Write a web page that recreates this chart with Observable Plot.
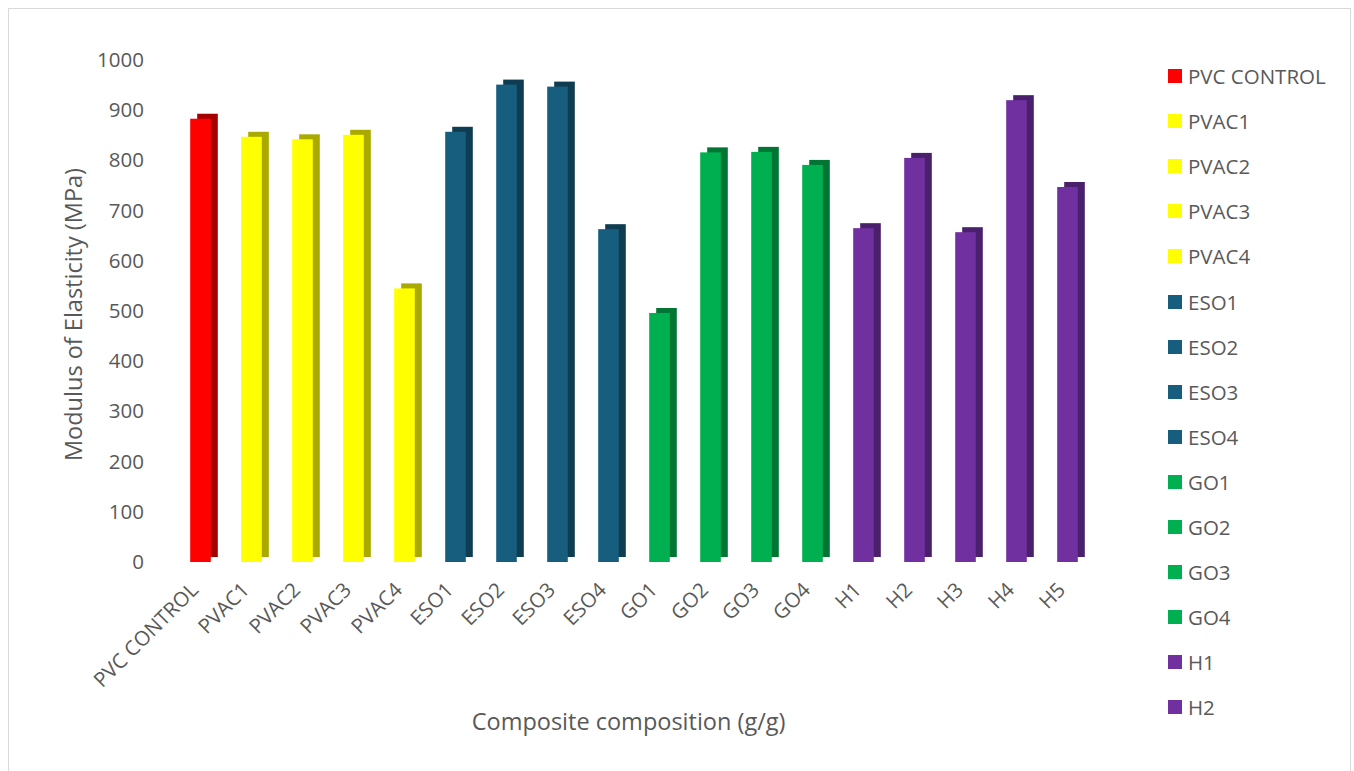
<!DOCTYPE html>
<html>
<head>
<meta charset="utf-8">
<script src="https://cdn.jsdelivr.net/npm/d3@7"></script>
<script src="https://cdn.jsdelivr.net/npm/@observablehq/plot@0.6"></script>
<style>
  html, body { margin: 0; padding: 0; background: #fff; }
  #wrap { position: relative; width: 1354px; height: 771px; overflow: hidden; font-family: "Open Sans", sans-serif; }
  #frame { position: absolute; left: 8px; top: 8px; width: 1343px; height: 775px; border: 1px solid #d9d9d9; box-sizing: border-box; }
  #chart { position: absolute; left: 0; top: 0; }
  #legend { position: absolute; left: 1168px; top: 0; }
  .item { position: absolute; left: 0; white-space: nowrap; display: flex; align-items: center; height: 24px; }
  .sw { width: 14px; height: 14px; margin-right: 6px; }
  .lt { font-size: 20.5px; color: #595959; }
</style>
</head>
<body>
<div id="wrap">
  <div id="frame"></div>
  <div id="chart"></div>
  <div id="legend"></div>
</div>
<script>
const categories = ["PVC CONTROL","PVAC1","PVAC2","PVAC3","PVAC4","ESO1","ESO2","ESO3","ESO4","GO1","GO2","GO3","GO4","H1","H2","H3","H4","H5"];
const values = [883, 847, 842, 851, 545, 857, 951, 947, 663, 496, 816, 817, 791, 665, 805, 657, 920, 747];
const groups = ["control","pvac","pvac","pvac","pvac","eso","eso","eso","eso","go","go","go","go","h","h","h","h","h"];
const groupNames = ["control","pvac","eso","go","h"];
const frontColors = ["#ff0000","#ffff00","#175e7e","#00b050","#7030a0"];
const sideColors = ["#a30000","#a9a900","#0e3c50","#007534","#4a1f6b"];
const yTicks = [0,100,200,300,400,500,600,700,800,900,1000];
const legendItems = categories.slice(0, 15);

const data = categories.map((c, i) => ({cat: c, value: values[i], group: groups[i]}));
const frontOf = g => frontColors[groupNames.indexOf(g)];
const sideOf = g => sideColors[groupNames.indexOf(g)];

const chart = Plot.plot({
  width: 1354,
  height: 771,
  marginLeft: 171.5,
  marginRight: 257.3,
  marginTop: 60,
  marginBottom: 209,
  style: {fontFamily: "Open Sans, sans-serif", background: "transparent"},
  x: {domain: categories, padding: 0, label: null},
  y: {domain: [0, 1000], label: null},
  marks: [
    Plot.barY(data, {x: "cat", y: "value", fill: d => sideOf(d.group), insetLeft: 15.2, insetRight: 15.2, dx: 7, dy: -5}),
    Plot.barY(data, {x: "cat", y: "value", fill: d => frontOf(d.group), insetLeft: 15.2, insetRight: 15.2}),
    Plot.axisY({ticks: yTicks, tickSize: 0, tickPadding: 28, fontSize: 20.5, fill: "#595959", label: null, tickFormat: d => String(d)}),
    Plot.axisX({tickSize: 0, tickPadding: 24, tickRotate: -45, fontSize: 20.5, fill: "#595959", label: null, dx: -6}),
    Plot.text(["Modulus of Elasticity (MPa)"], {frameAnchor: "left", textAnchor: "middle", text: d => d, rotate: -90, dx: -98, dy: 3, fontSize: 23.5, fill: "#595959"}),
    Plot.text(["Composite composition (g/g)"], {frameAnchor: "bottom", textAnchor: "middle", text: d => d, dx: -6, dy: 167, fontSize: 23.5, fill: "#595959"})
  ]
});
document.getElementById("chart").appendChild(chart);

const legend = document.getElementById("legend");
legendItems.forEach((c, i) => {
  const it = document.createElement("div");
  it.className = "item";
  it.style.top = (76 + i * 45.1 - 12) + "px";
  const sw = document.createElement("div");
  sw.className = "sw";
  sw.style.background = frontOf(groups[i]);
  const t = document.createElement("span");
  t.className = "lt";
  t.textContent = c;
  it.appendChild(sw);
  it.appendChild(t);
  legend.appendChild(it);
});
</script>
</body>
</html>
